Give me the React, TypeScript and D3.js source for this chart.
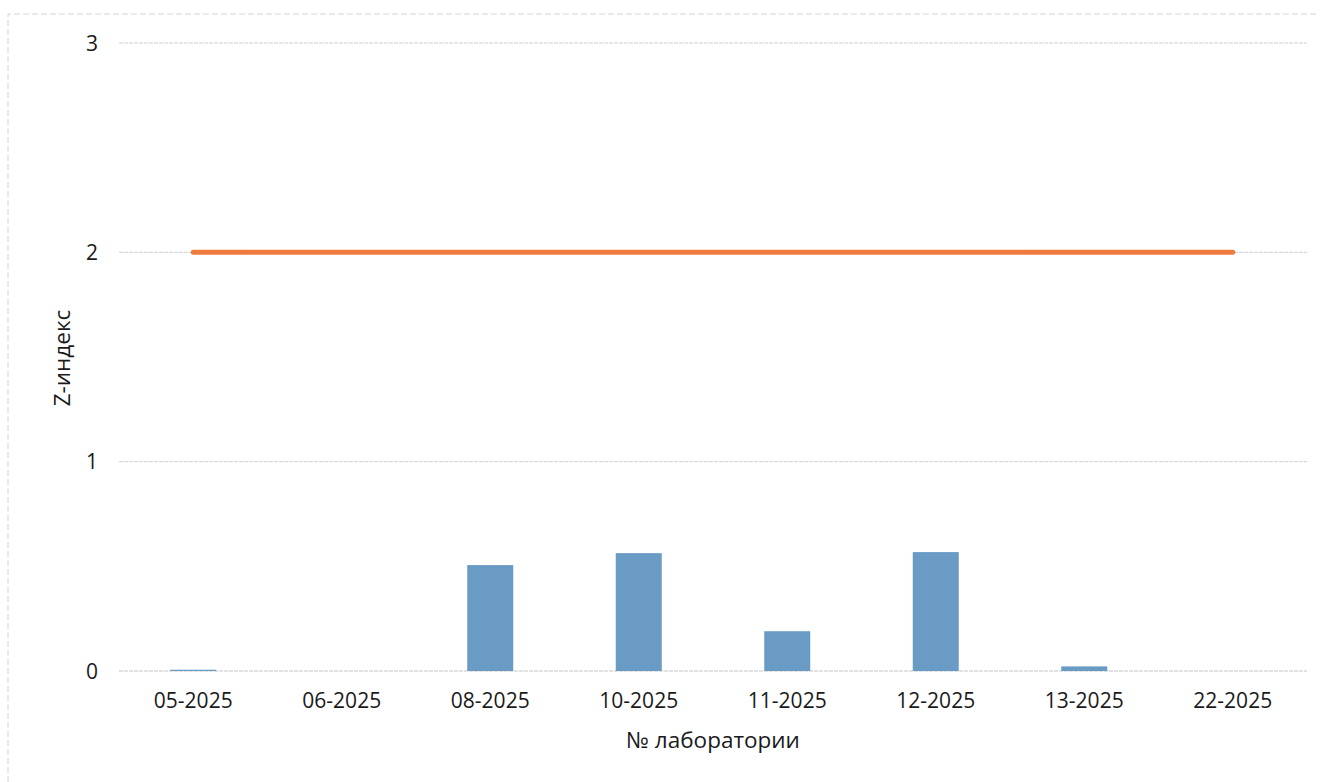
import React, { useEffect, useRef } from "react";
import * as d3 from "d3";

const categories = ["05-2025", "06-2025", "08-2025", "10-2025", "11-2025", "12-2025", "13-2025", "22-2025"];
const zValues = [0.006, 0, 0.506, 0.563, 0.19, 0.568, 0.022, 0];
const limitValues = [2, 2, 2, 2, 2, 2, 2, 2];
const yTicks = [0, 1, 2, 3];

const W = 1326;
const H = 782;
const M = { left: 119, right: 1307, top: 43, bottom: 671 };

export default function App() {
  const ref = useRef<SVGSVGElement>(null);
  useEffect(() => {
    const svg = d3.select(ref.current);
    svg.selectAll("*").remove();
    const font = "'Open Sans', 'Noto Sans', sans-serif";

    const x = d3.scaleBand().domain(categories).range([M.left, M.right]).paddingInner(0).paddingOuter(0);
    const y = d3.scaleLinear().domain([0, 3]).range([M.bottom, M.top]);
    const barW = 46;

    // faint outer frame (scan border)
    svg.append("path")
      .attr("d", `M8,${H} L8,14 L${W - 8},14`)
      .attr("fill", "none")
      .attr("stroke", "#d4d4d4")
      .attr("stroke-width", 1)
      .attr("stroke-dasharray", "6,3");

    // gridlines
    svg.append("g").selectAll("line").data(yTicks).join("line")
      .attr("x1", M.left).attr("x2", M.right)
      .attr("y1", (d) => y(d)).attr("y2", (d) => y(d))
      .attr("stroke", (d) => (d === 0 ? "#c4c4c4" : "#cfcfcf"))
      .attr("stroke-width", 1)
      .attr("stroke-dasharray", "4,1");

    // y tick labels
    svg.append("g").selectAll("text").data(yTicks).join("text")
      .attr("x", 98).attr("y", (d) => y(d))
      .attr("dy", "0.36em")
      .attr("text-anchor", "end")
      .attr("font-family", font).attr("font-size", 21).attr("fill", "#1a1a1a")
      .text((d) => String(d));

    // bars
    svg.append("g").selectAll("rect").data(categories).join("rect")
      .attr("x", (d) => (x(d) as number) + x.bandwidth() / 2 - barW / 2)
      .attr("width", barW)
      .attr("y", (_, i) => y(zValues[i]))
      .attr("height", (_, i) => y(0) - y(zValues[i]))
      .attr("fill", "#6a9bc4");

    // limit line
    const line = d3.line<number>()
      .x((_, i) => (x(categories[i]) as number) + x.bandwidth() / 2)
      .y((d) => y(d));
    svg.append("path")
      .datum(limitValues)
      .attr("d", line)
      .attr("fill", "none")
      .attr("stroke", "#ef7b3f")
      .attr("stroke-width", 5)
      .attr("stroke-linecap", "round");

    // x labels
    svg.append("g").selectAll("text").data(categories).join("text")
      .attr("x", (d) => (x(d) as number) + x.bandwidth() / 2)
      .attr("y", 708)
      .attr("text-anchor", "middle")
      .attr("font-family", font).attr("font-size", 21).attr("fill", "#1a1a1a")
      .text((d) => d);

    // axis titles
    svg.append("text")
      .attr("x", 713).attr("y", 748)
      .attr("text-anchor", "middle")
      .attr("font-family", font).attr("font-size", 22.5).attr("fill", "#1a1a1a")
      .text("№ лаборатории");

    svg.append("text")
      .attr("transform", `translate(70,358) rotate(-90)`)
      .attr("text-anchor", "middle")
      .attr("font-family", font).attr("font-size", 22.5).attr("fill", "#1a1a1a")
      .text("Z-индекс");
  }, []);

  return (
    <svg
      ref={ref}
      width={W}
      height={H}
      style={{ position: "absolute", left: 0, top: 0, background: "#fff" }}
    />
  );
}
